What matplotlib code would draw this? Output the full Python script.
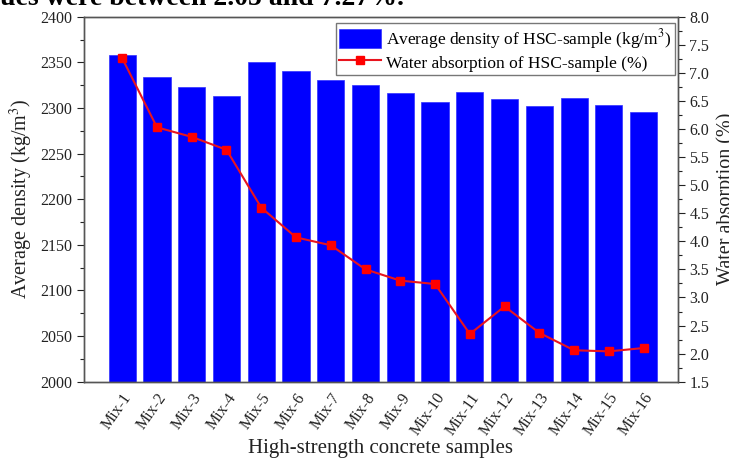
import numpy as np
import matplotlib
matplotlib.use('Agg')
import matplotlib.pyplot as plt
from matplotlib.ticker import MultipleLocator

plt.rcParams['font.family'] = ['Liberation Serif', 'DejaVu Serif']
plt.rcParams['mathtext.fontset'] = 'stix'

# sample names and measured values
samples = ['Mix-' + str(i) for i in range(1, 17)]
density = [2358, 2334, 2323, 2313, 2350, 2340, 2331, 2325,
           2316, 2307, 2318, 2310, 2302, 2311, 2303, 2296]
absorption = [7.26, 6.03, 5.86, 5.63, 4.60, 4.07, 3.93, 3.50,
              3.30, 3.24, 2.35, 2.84, 2.37, 2.06, 2.04, 2.10]

x = np.arange(len(samples))

fig = plt.figure(figsize=(7.29, 4.59), dpi=100)
ax = fig.add_axes([0.1152, 0.1684, 0.8144, 0.7952])
ax2 = ax.twinx()

bars = ax.bar(x, density, width=0.78, color='#0000ff', edgecolor='#3030ff',
              linewidth=0.5, label='Average density of HSC-sample (kg/m$^3$)')
line, = ax2.plot(x, absorption, color='#e8141e', lw=1.5, marker='s', ms=6,
                 markerfacecolor='#ff0000', markeredgecolor='#ff0000',
                 label='Water absorption of HSC-sample (%)')

ax.set_xlim(-1.1, 15.98)
ax.set_ylim(2000, 2400)
ax2.set_ylim(1.5, 8.0)

ax.yaxis.set_major_locator(MultipleLocator(50))
ax.yaxis.set_minor_locator(MultipleLocator(25))
ax2.yaxis.set_major_locator(MultipleLocator(0.5))
ax2.yaxis.set_minor_locator(MultipleLocator(0.25))
ax2.yaxis.set_major_formatter(matplotlib.ticker.FormatStrFormatter('%.1f'))

ax.set_xticks(x)
ax.set_xticklabels(samples, rotation=55, ha='right', rotation_mode='anchor',
                   fontsize=11.5, color='#222222')
ax.tick_params(axis='x', length=0, pad=6)
for a in (ax, ax2):
    a.tick_params(axis='y', which='major', direction='out', length=5, width=0.8,
                  labelsize=11.5, colors='#222222')
    a.tick_params(axis='y', which='minor', direction='out', length=3, width=0.8,
                  colors='#222222')
    for s in a.spines.values():
        s.set_color('#555555')
        s.set_linewidth(1.0)

ax.set_xlabel('High-strength concrete samples', fontsize=15, color='#222222', labelpad=0)
ax.set_ylabel('Average density (kg/m$^3$)', fontsize=14.5, color='#222222', labelpad=4)
ax2.set_ylabel('Water absorption (%)', fontsize=14.5, color='#222222', labelpad=5)

leg = ax.legend([bars, line], [bars.get_label(), line.get_label()],
                loc='upper right', bbox_to_anchor=(0.995, 0.982), fontsize=12.5,
                frameon=True, fancybox=False, edgecolor='#555555',
                handlelength=2.4, handleheight=1.3, borderpad=0.2,
                labelspacing=0.1, handletextpad=0.3, borderaxespad=0)
leg.get_frame().set_linewidth(1.0)

# clipped line of document text above the figure
fig.text(0.0, 0.989, 'ues were between 2.05 and 7.27%.', fontsize=20,
         fontweight='bold', va='baseline', ha='left', color='black')

fig.savefig('out.png', dpi=100)
